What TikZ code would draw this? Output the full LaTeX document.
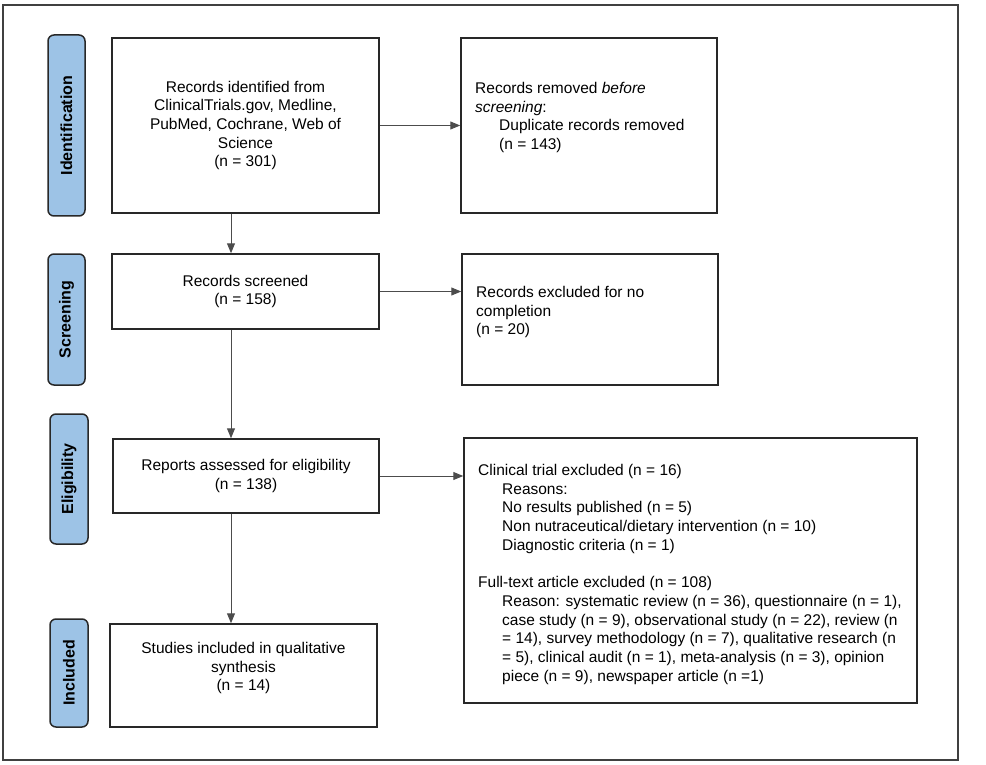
\documentclass[tikz,border=0pt]{standalone}
\usepackage{fontspec}
\setmainfont{Liberation Sans}
\usetikzlibrary{arrows.meta}
\definecolor{labblue}{RGB}{157,195,230}
\definecolor{edge}{RGB}{40,40,40}
\begin{document}
\begin{tikzpicture}[x=1pt,y=-1pt,
  every node/.style={font=\fontsize{15.5pt}{18.7pt}\selectfont, inner sep=0pt},
  box/.style={draw=edge, line width=1.5pt, rectangle, align=center},
  stage/.style={draw=edge, fill=labblue, line width=1.5pt, rounded corners=6pt, rotate=90,
     font=\fontsize{16pt}{18.7pt}\selectfont\bfseries},
  txt/.style={align=left, anchor=north west},
  arr/.style={draw=black!70, line width=1pt, -{Triangle[length=10pt,width=8pt]}}
]
\useasboundingbox (0,0) rectangle (986,765);
\draw[draw=black!75, line width=1.5pt] (3,5) rectangle (958,760);

% stage labels
\node[stage, minimum width=181, minimum height=37] (sid) at (66.5,125.5) {Identification};
\node[stage, minimum width=131, minimum height=37] (ssc) at (66.5,319.5) {Screening};
\node[stage, minimum width=130, minimum height=38] (sel) at (69,479) {Eligibility};
\node[stage, minimum width=108, minimum height=38] (sin) at (69,673) {Included};

% main boxes
\node[box, minimum width=267, minimum height=175] (b1) at (245.5,125.5)
  {Records identified from\\ClinicalTrials.gov, Medline,\\PubMed, Cochrane, Web of\\Science\\(n = 301)};
\node[box, minimum width=267, minimum height=75] (b2) at (245.5,291.5)
  {Records screened\\(n = 158)};
\node[box, minimum width=266, minimum height=74] (b3) at (246,476)
  {Reports assessed for eligibility\\(n = 138)};
\node[box, minimum width=267, minimum height=103] (b4) at (243.5,675.5) {};
\node[align=center, anchor=north] (t4) at (243.5,642)
  {Studies included in qualitative\\synthesis\\(n = 14)};

% right boxes
\node[box, minimum width=256, minimum height=175] (r1) at (589,125.5) {};
\node[txt] (t1) at (475,82)
  {Records removed \textit{before}\\\textit{screening}:\\\hspace*{24pt}Duplicate records removed\\\hspace*{24pt}(n = 143)};
\node[box, minimum width=256, minimum height=131] (r2) at (590,319.5) {};
\node[txt] (t2) at (476,286)
  {Records excluded for no\\completion\\(n = 20)};
\node[box, minimum width=453, minimum height=265] (r3) at (690.5,570.5) {};
\node[txt] (t3) at (478,464)
  {Clinical trial excluded (n = 16)\\
   \hspace*{24pt}Reasons:\\
   \hspace*{24pt}No results published (n = 5)\\
   \hspace*{24pt}Non nutraceutical/dietary intervention (n = 10)\\
   \hspace*{24pt}Diagnostic criteria (n = 1)\\[18.7pt]
   Full-text article excluded (n = 108)\\
   \hspace*{24pt}Reason: systematic review (n = 36), questionnaire (n = 1),\\
   \hspace*{24pt}case study (n = 9), observational study (n = 22), review (n\\
   \hspace*{24pt}= 14), survey methodology (n = 7), qualitative research (n\\
   \hspace*{24pt}= 5), clinical audit (n = 1), meta-analysis (n = 3), opinion\\
   \hspace*{24pt}piece (n = 9), newspaper article (n =1)};

% connectors
\coordinate (ax) at (231,0);
\draw[arr] (b1.south -| ax) -- (b2.north -| ax);
\draw[arr] (b2.south -| ax) -- (b3.north -| ax);
\draw[arr] (b3.south -| ax) -- (b4.north -| ax);
\draw[arr] (b1.east) -- (b1.east -| r1.west);
\draw[arr] (b2.east) -- (b2.east -| r2.west);
\draw[arr] (b3.east) -- (b3.east -| r3.west);
\end{tikzpicture}
\end{document}
